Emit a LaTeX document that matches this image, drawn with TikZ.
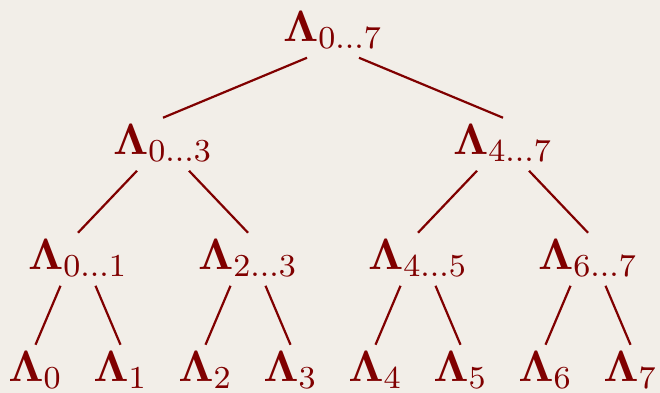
\documentclass[tikz,border=0pt]{standalone}
\usepackage{amsmath}
\usepackage{tikz}
\usetikzlibrary{calc}
\definecolor{paper}{RGB}{242,238,232}
\definecolor{lam}{RGB}{128,0,0}

\begin{document}
\begin{tikzpicture}[x=0.25pt, y=-0.25pt,
  every node/.style={text=lam, font=\fontsize{11}{13}\selectfont, inner xsep=0pt, inner ysep=1.6pt, anchor=base},
  edge/.style={draw=lam, line width=0.55pt}]
  % fond
  \fill[paper] (0,0) rectangle (660,393);
  \useasboundingbox (0,0) rectangle (660,393);

  % racine et premier niveau
  \node (r) at (333,42) {$\mathbf{\Lambda}_{0\ldots7}$};
  \node (a0) at (163,155) {$\mathbf{\Lambda}_{0\ldots3}$};
  \node (a1) at (503,155) {$\mathbf{\Lambda}_{4\ldots7}$};

  % deuxieme niveau
  \foreach \i/\p/\q in {0/0/1, 1/2/3, 2/4/5, 3/6/7}
    \node (m\i) at ({78+170*\i},270) {$\mathbf{\Lambda}_{\p\ldots\q}$};

  % feuilles
  \foreach \i in {0,...,7}
    \node (l\i) at ({35.5+85*\i},382) {$\mathbf{\Lambda}_{\i}$};

  % aretes
  \draw[edge] ($(r.south)+(-26,2)$) -- (a0.north);
  \draw[edge] ($(r.south)+(26,2)$) -- (a1.north);
  \foreach \i [evaluate=\i as \j using int(2*\i), evaluate=\i as \k using int(2*\i+1)] in {0,1} {
    \draw[edge] ($(a\i.south)+(-26,2)$) -- (m\j.north);
    \draw[edge] ($(a\i.south)+(26,2)$) -- (m\k.north);
  }
  \foreach \i [evaluate=\i as \j using int(2*\i), evaluate=\i as \k using int(2*\i+1)] in {0,...,3} {
    \draw[edge] ($(m\i.south)+(-17.5,2)$) -- (l\j.north);
    \draw[edge] ($(m\i.south)+(17.5,2)$) -- (l\k.north);
  }
\end{tikzpicture}
\end{document}
